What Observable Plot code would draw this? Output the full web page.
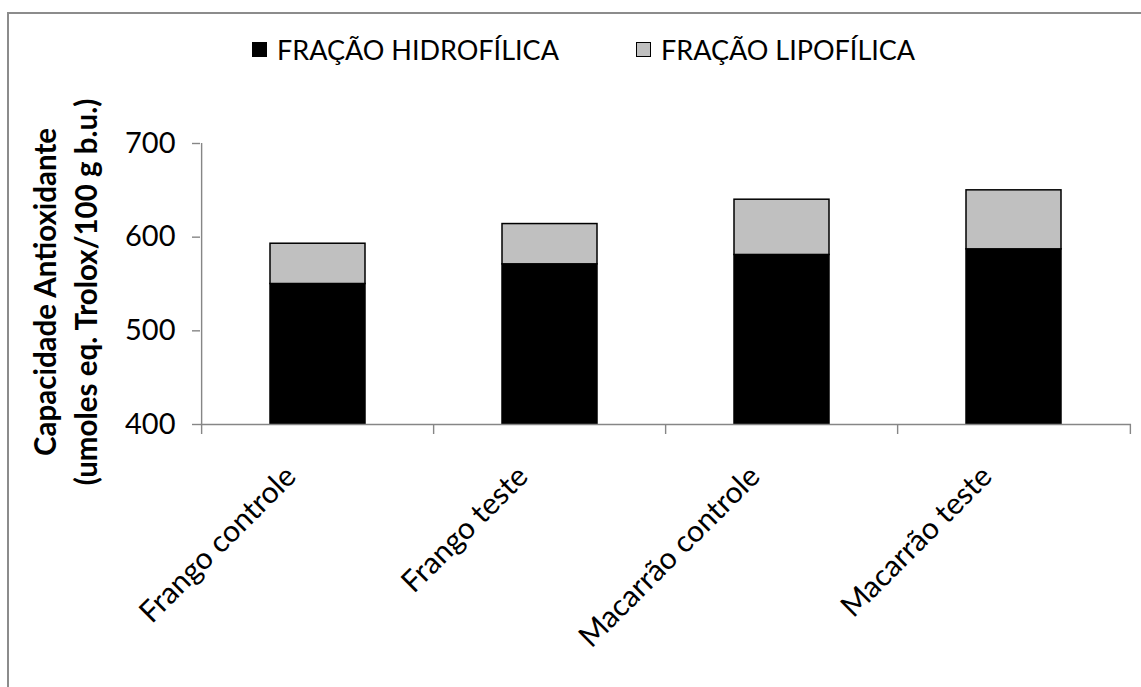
<!DOCTYPE html>
<html lang="pt">
<head>
<meta charset="utf-8">
<script src="https://cdn.jsdelivr.net/npm/d3@7"></script>
<script src="https://cdn.jsdelivr.net/npm/@observablehq/plot@0.6"></script>
<style>
  html, body { margin: 0; padding: 0; background: #fff; }
  #wrap { position: relative; width: 1141px; height: 687px; overflow: hidden; background: #fff; font-family: Lato, "Open Sans", sans-serif; }
  #plot { position: absolute; left: 0; top: 0; }
  #border { position: absolute; left: 7px; top: 12px; width: 1300px; height: 900px; border-left: 2px solid #8c8c8c; border-top: 2px solid #8c8c8c; pointer-events: none; }
  .item { position: absolute; display: flex; align-items: center; }
  .swatch { width: 13px; height: 13px; border: 1.5px solid #000; }
  .label { font-size: 27px; line-height: 27px; color: #000; margin-left: 10px; white-space: nowrap; }
</style>
</head>
<body>
<div id="wrap">
  <div id="plot"></div>
  <div id="legend"></div>
  <div id="border"></div>
</div>
<script>
// Antioxidant capacity by sample, split into hydrophilic and lipophilic fractions
const categorias = ["Frango controle", "Frango teste", "Macarrão controle", "Macarrão teste"];
const hidrofilica = [550, 571, 581, 587];
const lipofilica = [43, 43, 59, 63];
const fracoes = ["FRAÇÃO HIDROFÍLICA", "FRAÇÃO LIPOFÍLICA"];
const coresFracao = ["#000000", "#c0c0c0"];
const yTicks = [400, 500, 600, 700];
const tituloY = "Capacidade Antioxidante\n(umoles eq. Trolox/100 g b.u.)";

const dados = [
  ...categorias.map((c, i) => ({categoria: c, fracao: fracoes[0], valor: hidrofilica[i]})),
  ...categorias.map((c, i) => ({categoria: c, fracao: fracoes[1], valor: lipofilica[i]}))
];

const W = 1141, H = 687;
const mL = 200, mR = 10, mT = 143, mB = 263;
const step = (W - mL - mR) / categorias.length;
const cinza = "#868686";

const chart = Plot.plot({
  width: W,
  height: H,
  marginLeft: mL,
  marginRight: mR,
  marginTop: mT,
  marginBottom: mB,
  style: {fontFamily: "Lato, 'Open Sans', sans-serif", background: "transparent", color: "#000", overflow: "visible"},
  x: {domain: categorias, paddingInner: 0.59, paddingOuter: 0.295},
  y: {domain: [400, 700]},
  color: {domain: fracoes, range: coresFracao},
  marks: [
    Plot.barY(dados, Plot.stackY({
      x: "categoria", y: "valor", fill: "fracao", order: fracoes,
      stroke: "#000", strokeWidth: 1.5, clip: true
    })),
    // axis lines
    Plot.ruleY([400], {stroke: cinza, strokeWidth: 1.4}),
    Plot.ruleX([categorias[0]], {y1: 400, y2: 700, dx: -step / 2, stroke: cinza, strokeWidth: 1.4}),
    // category boundary ticks
    Plot.axisX({tickSize: 10, fill: "none", stroke: cinza, strokeWidth: 1.4, dx: -step / 2, label: null}),
    Plot.axisX({ticks: [categorias[categorias.length - 1]], tickSize: 10, fill: "none", stroke: cinza, strokeWidth: 1.4, dx: step / 2, label: null}),
    // category labels
    Plot.axisX({tickSize: 0, tickPadding: 0, tickRotate: -45, dx: -27, dy: 47, fontSize: 30, fill: "#000", label: null}),
    Plot.axisY({ticks: yTicks, tickSize: 8, tickPadding: 17, fontSize: 29, stroke: cinza, strokeWidth: 1.4, fill: "#000", label: null}),
    Plot.text([tituloY], {
      text: d => d, frameAnchor: "left", textAnchor: "middle", rotate: -90, dx: -137, dy: 8,
      fontSize: 29.5, fontWeight: "bold", lineHeight: 1.4, fill: "#000"
    })
  ]
});
document.getElementById("plot").appendChild(chart);

// legend
const legend = document.getElementById("legend");
const legendPos = [{left: 252, top: 36}, {left: 636, top: 36}];
fracoes.forEach((f, i) => {
  const item = document.createElement("div");
  item.className = "item";
  item.style.left = legendPos[i].left + "px";
  item.style.top = legendPos[i].top + "px";
  const sw = document.createElement("div");
  sw.className = "swatch";
  sw.style.background = coresFracao[i];
  const lb = document.createElement("span");
  lb.className = "label";
  lb.textContent = f;
  item.appendChild(sw);
  item.appendChild(lb);
  legend.appendChild(item);
});
</script>
</body>
</html>
